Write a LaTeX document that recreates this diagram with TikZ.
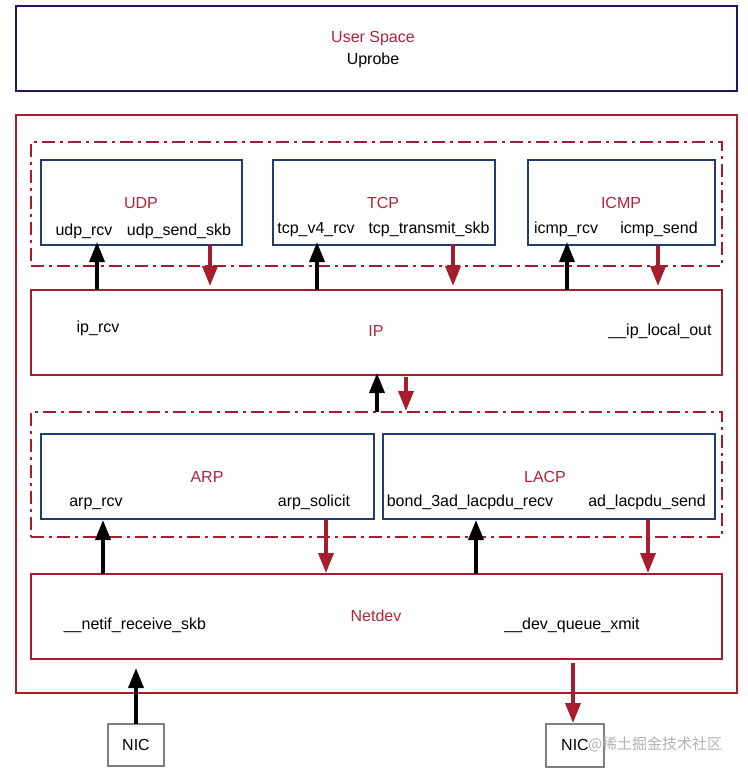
\documentclass[tikz,border=0pt]{standalone}
\usepackage{fontspec}
\setmainfont{Liberation Sans}
\newfontfamily\cjk{Noto Sans CJK SC}
\usetikzlibrary{arrows.meta}
\definecolor{kred}{HTML}{A61E2E}
\definecolor{tred}{HTML}{B0243A}
\definecolor{kblue}{HTML}{1F3E6E}
\definecolor{kpurple}{HTML}{2E1060}
\definecolor{kgray}{HTML}{7F7F7F}
\tikzset{
  every node/.style={font=\fontsize{16}{19}\selectfont, inner sep=0pt, outer sep=0pt},
  lbl/.style={anchor=base, yshift=-5.7pt},
  box/.style={draw, line width=1.9pt, anchor=north west},
  redbox/.style={box, draw=kred},
  bluebox/.style={box, draw=kblue},
  grpbox/.style={box, draw=kred, line width=1.6pt, dash pattern=on 13pt off 5pt on 3pt off 5pt},
  nicbox/.style={box, draw=kgray, line width=1.9pt},
  ttl/.style={lbl, text=tred},
  upar/.style={line width=3.6pt, black, -{Triangle[width=15pt,length=20pt]}},
  dnar/.style={line width=3.6pt, kred, -{Triangle[width=15pt,length=20pt]}},
}
\begin{document}
\begin{tikzpicture}[x=1pt,y=-1pt]
\useasboundingbox (0,0) rectangle (747,773);
% user space
\node[box, draw=kpurple, minimum width=721, minimum height=85] (user) at (16,6) {};
\node[ttl] (usertxt) at (373,37) {User Space};
\node[lbl] (uprobe) at (373,59) {Uprobe};
% kernel
\node[redbox, minimum width=721, minimum height=578] (kernel) at (16,115) {};
% upper group
\node[grpbox, minimum width=691, minimum height=124] (upgrp) at (31,142) {};
\node[bluebox, minimum width=201, minimum height=85] (udp) at (41,160) {};
\node[bluebox, minimum width=222, minimum height=85] (tcp) at (273,160) {};
\node[bluebox, minimum width=187, minimum height=85] (icmp) at (528,160) {};
\node[ttl] (udpt) at (141,203) {UDP};
\node[lbl] (udprcv) at (84,230) {udp\_rcv};
\node[lbl] (udpsend) at (179,230) {udp\_send\_skb};
\node[ttl] (tcpt) at (383,203) {TCP};
\node[lbl] (tcprcv) at (316,228) {tcp\_v4\_rcv};
\node[lbl] (tcpsend) at (429,228) {tcp\_transmit\_skb};
\node[ttl] (icmpt) at (621,203) {ICMP};
\node[lbl] (icmprcv) at (566,228) {icmp\_rcv};
\node[lbl] (icmpsend) at (659,228) {icmp\_send};
% IP
\node[redbox, minimum width=691, minimum height=85] (ip) at (31,290) {};
\node[lbl] (iprcv) at (98,327) {ip\_rcv};
\node[ttl] (ipt) at (376,331) {IP};
\node[lbl] (ipout) at (660,330) {\_\_ip\_local\_out};
% lower group
\node[grpbox, minimum width=691, minimum height=125] (lowgrp) at (31,412) {};
\node[bluebox, minimum width=333, minimum height=85] (arp) at (41,434) {};
\node[bluebox, minimum width=332, minimum height=85] (lacp) at (383,434) {};
\node[ttl] (arpt) at (207,477) {ARP};
\node[lbl] (arprcv) at (96,501) {arp\_rcv};
\node[lbl] (arpsol) at (314,501) {arp\_solicit};
\node[ttl] (lacpt) at (545,477) {LACP};
\node[lbl] (lacprcv) at (470,501) {bond\_3ad\_lacpdu\_recv};
\node[lbl] (lacpsend) at (647,501) {ad\_lacpdu\_send};
% netdev
\node[redbox, minimum width=691, minimum height=85] (netdev) at (31,574) {};
\node[ttl] (netdevt) at (376,616) {Netdev};
\node[lbl] (netrcv) at (135,624) {\_\_netif\_receive\_skb};
\node[lbl] (netxmit) at (572,624) {\_\_dev\_queue\_xmit};
% NICs
\node[nicbox, minimum width=56, minimum height=42] (nic1) at (108,724) {};
\node[lbl] (nic1t) at (136,745) {NIC};
\node[nicbox, minimum width=58, minimum height=43] (nic2) at (546,724) {};
\node[lbl] (nic2t) at (575,745) {NIC};
\node[text=black!30, font=\cjk\fontsize{15}{17}\selectfont, anchor=west] (wm) at (588,744) {@稀土掘金技术社区};
% arrows upper
\draw[upar] (97,0 |- ip.north) -- ([yshift=3pt]97,0 |- udp.south);
\draw[dnar] (210,0 |- udp.south) -- ([yshift=4pt]210,0 |- ip.north);
\draw[upar] (317,0 |- ip.north) -- ([yshift=3pt]317,0 |- tcp.south);
\draw[dnar] (453,0 |- tcp.south) -- ([yshift=4pt]453,0 |- ip.north);
\draw[upar] (567,0 |- ip.north) -- ([yshift=3pt]567,0 |- icmp.south);
\draw[dnar] ([yshift=-1pt]658,0 |- icmp.south) -- ([yshift=4pt]658,0 |- ip.north);
% IP <-> lower group
\draw[upar] (377,0 |- lowgrp.north) -- ([yshift=2pt]377,0 |- ip.south);
\draw[dnar] ([yshift=-2pt]406,0 |- ip.south) -- ([yshift=1pt]406,0 |- lowgrp.north);
% lower boxes <-> netdev
\draw[upar] (103,0 |- netdev.north) -- ([yshift=-1pt]103,0 |- arp.south);
\draw[dnar] ([yshift=-1pt]326,0 |- arp.south) -- ([yshift=1pt]326,0 |- netdev.north);
\draw[upar] (476,0 |- netdev.north) -- ([yshift=-1pt]476,0 |- lacp.south);
\draw[dnar] ([yshift=-1pt]648,0 |- lacp.south) -- ([yshift=1pt]648,0 |- netdev.north);
% NICs
\draw[upar] (nic1.north) -- ([yshift=-9pt]nic1.north |- netdev.south);
\draw[dnar] ([yshift=-4pt]573,0 |- netdev.south) -- ([yshift=1pt]573,0 |- nic2.north);
\end{tikzpicture}
\end{document}
